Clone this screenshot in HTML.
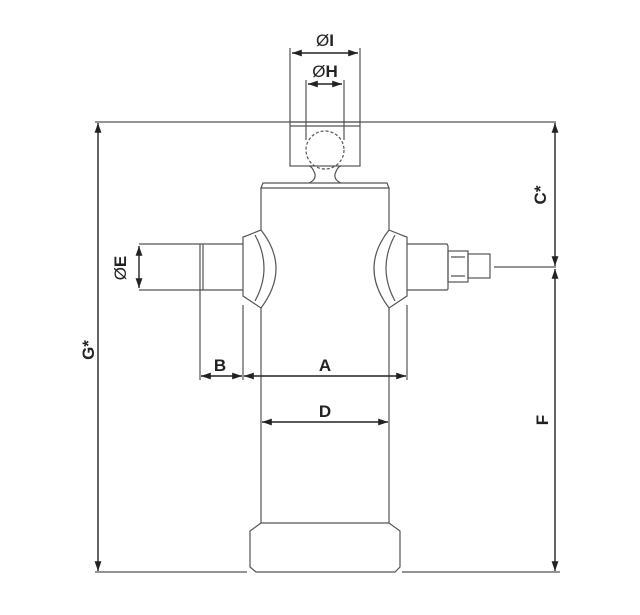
<!DOCTYPE html>
<html><head><meta charset="utf-8"><style>html,body{margin:0;padding:0;background:#fff}svg{display:block}</style></head>
<body>
<svg width="640" height="615" viewBox="0 0 640 615" xmlns="http://www.w3.org/2000/svg">
<defs>
<marker id="ar" viewBox="0 0 10 10" refX="10" refY="5" markerWidth="7" markerHeight="7" orient="auto-start-reverse"><path d="M0,1.5 L10,5 L0,8.5 z" fill="#222"/></marker>
</defs>
<g fill="none" stroke="#555" stroke-width="1.2">
<line x1="95" y1="122" x2="556" y2="122"/>
<rect x="290" y="122" width="70" height="44"/>
<line x1="290" y1="126" x2="360" y2="126"/>
<circle cx="325" cy="150" r="19" stroke-dasharray="3,2"/>
<path d="M309,183 Q316,180 315,174 Q312,166 309,166 M341,183 Q334,180 335,174 Q338,166 341,166"/>
<line x1="290" y1="48" x2="290" y2="122"/><line x1="360" y1="48" x2="360" y2="122"/>
<line x1="306" y1="80" x2="306" y2="140"/><line x1="344" y1="80" x2="344" y2="140"/>
<path d="M263,183 L387,183 L389,188 L261,188 Z"/>
<line x1="261" y1="188" x2="261" y2="230"/><line x1="389" y1="188" x2="389" y2="230"/>
<line x1="261" y1="308" x2="261" y2="523"/><line x1="389" y1="308" x2="389" y2="523"/>
<path d="M261,230 L246,236 L243,237 L243,296 L246,298 L261,308"/>
<path d="M261,230 Q291,268 261,308"/>
<path d="M255,235 Q273,268 255,301"/>
<path d="M389,230 L404,236 L407,237 L407,296 L404,298 L389,308"/>
<path d="M389,230 Q359,268 389,308"/>
<path d="M395,235 Q377,268 395,301"/>
<path d="M243,244 L139,244 M243,290 L139,290"/>
<path d="M203,244 L203,290 M200,244 L200,290"/>
<path d="M407,244 L447,244 L448,246 L448,289 L447,290 L407,290"/>
<rect x="448" y="251" width="20" height="31"/>
<path d="M451,257 L465,257 M451,276 L465,276"/>
<rect x="468" y="254" width="22" height="24"/>
<line x1="494" y1="267" x2="556" y2="267"/>
<line x1="200" y1="290" x2="200" y2="380"/>
<line x1="243" y1="305" x2="243" y2="380"/>
<line x1="407" y1="305" x2="407" y2="380"/>
<path d="M261,523 L389,523 L400,531 L400,567 L395,572 L256,572 L250,567 L250,531 Z"/>
<line x1="95" y1="572" x2="247" y2="572"/><line x1="402" y1="572" x2="560" y2="572"/>
</g>
<g stroke="#222" stroke-width="1.4" fill="none">
<line x1="292" y1="53" x2="358" y2="53" marker-start="url(#ar)" marker-end="url(#ar)"/>
<line x1="308" y1="84" x2="342" y2="84" marker-start="url(#ar)" marker-end="url(#ar)"/>
<line x1="139" y1="246" x2="139" y2="288" marker-start="url(#ar)" marker-end="url(#ar)"/>
<line x1="201" y1="376" x2="242" y2="376" marker-start="url(#ar)" marker-end="url(#ar)"/>
<line x1="244" y1="376" x2="406" y2="376" marker-start="url(#ar)" marker-end="url(#ar)"/>
<line x1="262" y1="422" x2="388" y2="422" marker-start="url(#ar)" marker-end="url(#ar)"/>
<line x1="98" y1="123" x2="98" y2="571" marker-start="url(#ar)" marker-end="url(#ar)"/>
<line x1="555" y1="123" x2="555" y2="266" marker-start="url(#ar)" marker-end="url(#ar)"/>
<line x1="555" y1="269" x2="555" y2="571" marker-start="url(#ar)" marker-end="url(#ar)"/>
</g>
<g font-family="Liberation Sans, sans-serif" font-size="17" font-weight="bold" fill="#222" text-anchor="middle">
<text x="325" y="46" font-weight="normal">Ø<tspan font-weight="bold">I</tspan></text>
<text x="325" y="77" font-weight="normal">Ø<tspan font-weight="bold">H</tspan></text>
<text x="220" y="371">B</text>
<text x="325" y="371">A</text>
<text x="325" y="417">D</text>
<text transform="translate(126,268) rotate(-90)" font-weight="normal">Ø<tspan font-weight="bold">E</tspan></text>
<text transform="translate(94,350) rotate(-90)">G*</text>
<text transform="translate(546,195) rotate(-90)">C*</text>
<text transform="translate(548,420) rotate(-90)">F</text>
</g>
</svg>
</body></html>
